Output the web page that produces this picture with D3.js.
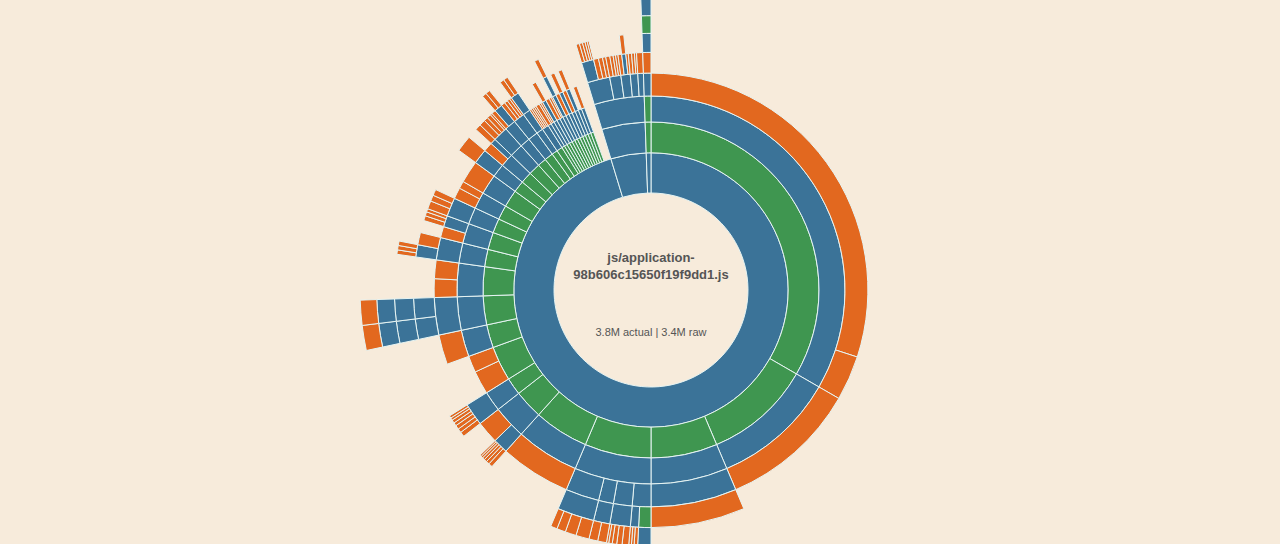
<!DOCTYPE html>
<html>
<head>
<meta charset="utf-8">
<script src="https://cdn.jsdelivr.net/npm/d3@7"></script>
<style>
  html, body { margin: 0; padding: 0; background: #f7ebdb; }
  #chart { width: 1280px; height: 544px; }
  text { font-family: "Liberation Sans", Arial, sans-serif; fill: #555; }
</style>
</head>
<body>
<div id="chart"></div>
<script>
// [id, parent, size (leaves only), kind]  kind: b = blue, g = green, o = orange, x = not drawn
const rootNodes = [
  ["r", null, 0, "x"],
  ["a", "r", 0, "b"],
  ["bb", "r", 0, "b"],
  ["c", "r", 0, "b"]
];

const rightNodes = [
  ["g1", "a", 0, "g"], ["g1b", "g1", 0, "b"], ["g1o1", "g1b", 1080, "o"], ["g1o2", "g1b", 120, "o"],
  ["g2", "a", 0, "g"], ["g2b", "g2", 0, "b"], ["g2o", "g2b", 370, "o"],
  ["g3", "a", 0, "g"], ["g3b", "g3", 0, "b"], ["g3c", "g3b", 0, "b"], ["g3o", "g3c", 230, "o"],
  ["g4", "a", 0, "g"], ["g4b", "g4", 0, "b"],
  ["g4a", "g4b", 0, "b"], ["g4a1", "g4a", 0, "g"], ["g4a1b", "g4a1", 0, "b"],
  ["g4a1o1", "g4a1b", 10, "o"], ["g4a1o2", "g4a1b", 8, "o"], ["g4a1o3", "g4a1b", 7, "o"], ["g4a1o4", "g4a1b", 5, "o"],
  ["g4a2", "g4a", 0, "b"], ["g4a2o1", "g4a2", 8, "o"], ["g4a2o2", "g4a2", 6, "o"], ["g4a2o3", "g4a2", 6, "o"],
  ["g4bb", "g4b", 0, "b"], ["g4bb1", "g4bb", 0, "b"],
  ["g4bbo1", "g4bb1", 15, "o"], ["g4bbo2", "g4bb1", 12, "o"], ["g4bbo3", "g4bb1", 10, "o"], ["g4bbo4", "g4bb1", 8, "o"], ["g4bbo5", "g4bb1", 5, "o"],
  ["g4c", "g4b", 0, "b"], ["g4c1", "g4c", 0, "b"], ["g4co1", "g4c1", 20, "o"], ["g4co2", "g4c1", 20, "o"],
  ["g4d", "g4b", 0, "b"], ["g4d1", "g4d", 0, "b"],
  ["g4do1", "g4d1", 30, "o"], ["g4do2", "g4d1", 25, "o"], ["g4do3", "g4d1", 20, "o"], ["g4do4", "g4d1", 15, "o"],
  ["g5", "a", 0, "g"], ["g5b", "g5", 0, "b"], ["g5o", "g5b", 190, "o"]
];

const leftNodes = [
  ["l1", "a", 0, "g"], ["l1b", "l1", 0, "b"], ["l1c", "l1b", 0, "b"],
  ["l1c1", "l1c", 10, "o"], ["l1c2", "l1c", 8, "o"], ["l1c3", "l1c", 7, "o"], ["l1c4", "l1c", 6, "o"], ["l1c5", "l1c", 5, "o"], ["l1c6", "l1c", 4, "o"],
  ["l1o", "l1b", 60, "o"],
  ["l2", "a", 0, "g"], ["l2b", "l2", 0, "b"], ["l2c", "l2b", 0, "b"],
  ["l2o1", "l2c", 12, "o"], ["l2o2", "l2c", 10, "o"], ["l2o3", "l2c", 10, "o"], ["l2o4", "l2c", 8, "o"], ["l2o5", "l2c", 8, "o"], ["l2o6", "l2c", 6, "o"], ["l2o7", "l2c", 6, "o"],
  ["l3", "a", 0, "g"], ["l3o1", "l3", 70, "o"], ["l3o2", "l3", 50, "o"],
  ["l4", "a", 0, "g"], ["l4b", "l4", 0, "b"], ["l4o", "l4b", 80, "o"],
  ["l5", "a", 0, "g"], ["l5b", "l5", 0, "b"], ["l5c", "l5b", 0, "b"],
  ["p1", "l5c", 0, "b"], ["p1a", "p1", 0, "b"], ["p1b", "p1a", 0, "b"], ["p1o", "p1b", 50, "o"],
  ["p2", "l5c", 0, "b"], ["p2a", "p2", 0, "b"], ["p2b", "p2a", 0, "b"], ["p2o", "p2b", 50, "o"],
  ["l6", "a", 0, "g"], ["l6b", "l6", 0, "b"], ["l6o1", "l6b", 50, "o"], ["l6o2", "l6b", 50, "o"],
  ["l7", "a", 0, "g"], ["l7b", "l7", 0, "b"], ["l7c", "l7b", 0, "b"], ["l7d", "l7c", 0, "b"],
  ["l7o1", "l7d", 10, "o"], ["l7o2", "l7d", 10, "o"], ["l7o3", "l7d", 10, "o"], ["l7o4", "l7c", 30, "o"],
  ["l8", "a", 0, "g"], ["l8b", "l8", 0, "b"], ["l8o1", "l8b", 30, "o"], ["l8c", "l8b", 0, "b"],
  ["l8o2", "l8c", 12, "o"], ["l8o3", "l8c", 10, "o"], ["l8o4", "l8c", 8, "o"],
  ["l9", "a", 0, "g"], ["l9b", "l9", 0, "b"], ["l9c", "l9b", 0, "b"],
  ["l9o1", "l9c", 20, "o"], ["l9o2", "l9c", 15, "o"], ["l9o3", "l9c", 15, "o"],
  ["l10", "a", 0, "g"], ["l10b", "l10", 0, "b"], ["l10o1", "l10b", 30, "o"], ["l10o2", "l10b", 20, "o"],
  ["l11", "a", 0, "g"], ["l11b", "l11", 0, "b"], ["l11o", "l11b", 60, "o"],
  ["l12", "a", 0, "g"], ["l12b", "l12", 0, "b"], ["l12c", "l12b", 0, "b"], ["l12o", "l12c", 40, "o"],
  ["l13", "a", 0, "g"], ["l13b", "l13", 0, "b"], ["l13o1", "l13b", 25, "o"], ["l13c", "l13b", 0, "b"], ["l13o2", "l13c", 15, "o"],
  ["l14", "a", 0, "g"], ["l14b", "l14", 0, "b"], ["l14c", "l14b", 0, "b"],
  ["l14o1", "l14c", 15, "o"], ["l14o2", "l14c", 10, "o"], ["l14o3", "l14c", 10, "o"], ["l14o4", "l14c", 5, "o"],
  ["l15", "a", 0, "g"], ["l15b", "l15", 0, "b"], ["l15c", "l15b", 0, "b"], ["l15o1", "l15c", 10, "o"],
  ["l15d", "l15c", 0, "b"], ["l15o2", "l15d", 10, "o"], ["l15o3", "l15d", 10, "o"],
  ["l16", "a", 0, "g"], ["l16b", "l16", 0, "b"], ["l16c", "l16b", 0, "b"],
  ["l16o1", "l16c", 10, "o"], ["l16o2", "l16c", 8, "o"], ["l16o3", "l16c", 7, "o"], ["l16o4", "l16c", 5, "o"],
  ["l17", "a", 0, "g"], ["l17b", "l17", 0, "b"], ["l17c", "l17b", 0, "b"], ["l17d", "l17c", 0, "b"],
  ["l17o1", "l17d", 10, "o"], ["l17o2", "l17d", 10, "o"],
  ["l18", "a", 0, "g"], ["l18b", "l18", 0, "b"],
  ["l18o1", "l18b", 5, "o"], ["l18o2", "l18b", 5, "o"], ["l18o3", "l18b", 5, "o"], ["l18o4", "l18b", 5, "o"]
];

// the thin green slivers next to the gap at the top left
const sliverNodes = [
  ["s1", "a", 0, "g"], ["s1b", "s1", 0, "b"], ["s1o", "s1b", 10, "o"],
  ["s2", "a", 0, "g"], ["s2b", "s2", 0, "b"], ["s2o1", "s2b", 5, "o"], ["s2o2", "s2b", 5, "o"],
  ["s3", "a", 0, "g"], ["s3b", "s3", 0, "b"], ["s3c", "s3b", 0, "b"], ["s3o", "s3c", 10, "o"],
  ["s4", "a", 0, "g"], ["s4b", "s4", 0, "b"], ["s4o", "s4b", 10, "o"],
  ["s5", "a", 0, "g"], ["s5b", "s5", 0, "b"], ["s5o1", "s5b", 6, "o"], ["s5o2", "s5b", 4, "o"],
  ["s6", "a", 0, "g"], ["s6b", "s6", 0, "b"], ["s6c", "s6b", 0, "b"], ["s6d", "s6c", 0, "b"], ["s6o", "s6d", 10, "o"],
  ["s7", "a", 0, "g"], ["s7b", "s7", 0, "b"], ["s7o", "s7b", 10, "o"],
  ["s8", "a", 0, "g"], ["s8b", "s8", 0, "b"], ["s8c", "s8b", 0, "b"], ["s8o", "s8c", 10, "o"],
  ["s9", "a", 0, "g"], ["s9b", "s9", 0, "b"], ["s9o", "s9b", 10, "o"],
  ["s10", "a", 0, "g"], ["s10b", "s10", 0, "b"], ["s10c", "s10b", 0, "b"], ["s10o", "s10c", 10, "o"],
  ["s11", "a", 0, "g"], ["s11o", "s11", 10, "b"],
  ["s12", "a", 0, "g"], ["s12b", "s12", 0, "b"], ["s12o", "s12b", 10, "o"],
  ["gap", "a", 30, "x"]
];

const topNodes = [
  ["bb1", "bb", 0, "b"], ["bb2", "bb1", 0, "b"],
  ["t1", "bb2", 0, "b"], ["t1b", "t1", 0, "b"],
  ["t1o1", "t1b", 8, "o"], ["t1o2", "t1b", 7, "o"], ["t1o3", "t1b", 6, "o"], ["t1o4", "t1b", 5, "o"], ["t1o5", "t1b", 4, "o"],
  ["t1o6", "t1", 12, "o"], ["t1o7", "t1", 10, "o"], ["t1o8", "t1", 8, "o"],
  ["t2", "bb2", 0, "b"], ["t2o1", "t2", 10, "o"], ["t2o2", "t2", 8, "o"], ["t2o3", "t2", 6, "o"], ["t2o4", "t2", 6, "o"],
  ["t3", "bb2", 0, "b"], ["t3o1", "t3", 9, "o"], ["t3b", "t3", 0, "b"], ["t3o2", "t3b", 10, "o"], ["t3o3", "t3", 6, "o"],
  ["t4", "bb2", 0, "b"], ["t4o1", "t4", 8, "o"], ["t4o2", "t4", 7, "o"], ["t4o3", "t4", 5, "o"],
  ["t5", "bb2", 0, "b"], ["t5o", "t5", 15, "o"],
  ["c1", "c", 0, "g"], ["c2", "c1", 0, "g"], ["c3", "c2", 0, "b"], ["c4", "c3", 0, "o"],
  ["c5", "c4", 0, "b"], ["c6", "c5", 0, "g"], ["c7", "c6", 0, "b"], ["c8", "c7", 20, "b"]
];

const titleLines = ["js/application-", "98b606c15650f19f9dd1.js"];
const sizeLabel = "3.8M actual | 3.4M raw";

const colors = { b: "#3b7398", g: "#3f9650", o: "#e2681f" };

const width = 1280, height = 544;
const cx = 651, cy = 290;

const rows = [...rootNodes, ...rightNodes, ...leftNodes, ...sliverNodes, ...topNodes];

const root = d3.stratify()
  .id(d => d[0])
  .parentId(d => d[1])(rows)
  .sum(d => d[2]);

d3.partition().size([2 * Math.PI, root.height + 1])(root);

// ring radius grows with the square root of the depth
const radius = d3.scaleSqrt().domain([0, 1]).range([0, 97]);

const arc = d3.arc()
  .startAngle(d => d.x0)
  .endAngle(d => d.x1)
  .innerRadius(d => radius(d.depth))
  .outerRadius(d => radius(d.depth + 1));

const svg = d3.select("#chart").append("svg")
  .attr("width", width)
  .attr("height", height);

const g = svg.append("g").attr("transform", `translate(${cx},${cy})`);

g.selectAll("path")
  .data(root.descendants().filter(d => d.depth > 0 && d.data[3] !== "x"))
  .join("path")
  .attr("d", arc)
  .attr("fill", d => colors[d.data[3]])
  .attr("stroke", "#e6f4f3")
  .attr("stroke-width", 1);

g.selectAll("text.title")
  .data(titleLines)
  .join("text")
  .attr("class", "title")
  .attr("text-anchor", "middle")
  .attr("y", (d, i) => -28 + i * 17)
  .style("font-size", "13px")
  .style("font-weight", "bold")
  .text(d => d);

g.append("text")
  .attr("text-anchor", "middle")
  .attr("y", 46)
  .style("font-size", "11px")
  .text(sizeLabel);
</script>
</body>
</html>
